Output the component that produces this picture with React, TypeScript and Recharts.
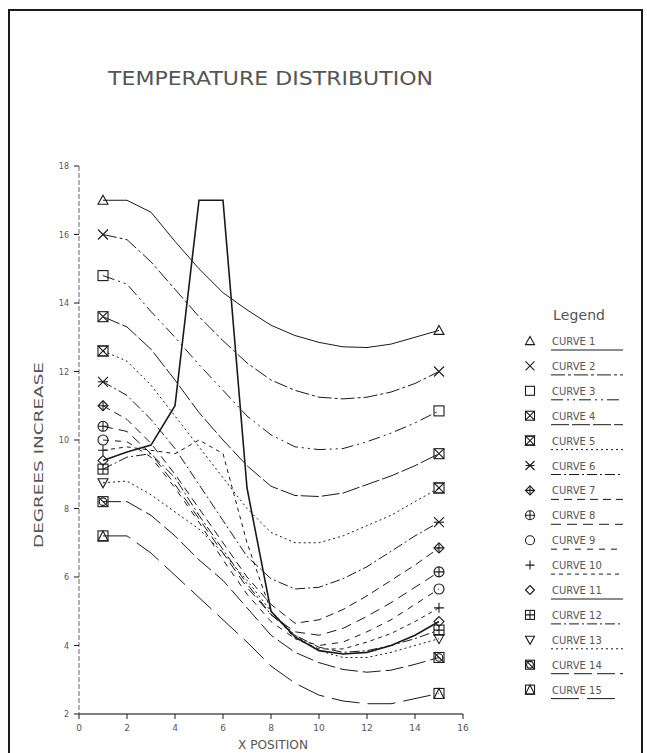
import { Legend, Line, LineChart, XAxis, YAxis } from "recharts";

const INK = "#1a1a1a";
const TEXT = "#555";
const FONT = "'DejaVu Sans', sans-serif";

const X_POS = [1, 2, 3, 4, 5, 6, 7, 8, 9, 10, 11, 12, 13, 14, 15];
const X_TICKS = [0, 2, 4, 6, 8, 10, 12, 14, 16];
const Y_TICKS = [2, 4, 6, 8, 10, 12, 14, 16, 18];

const CURVE_1 = [17.0, 17.0, 16.65, 15.8, 15.0, 14.3, 13.8, 13.35, 13.05, 12.85, 12.72, 12.7, 12.8, 13.0, 13.2];
const CURVE_2 = [16.0, 15.85, 15.2, 14.4, 13.6, 12.9, 12.25, 11.75, 11.45, 11.25, 11.2, 11.25, 11.4, 11.65, 12.0];
const CURVE_3 = [14.8, 14.55, 13.75, 13.0, 12.2, 11.45, 10.7, 10.15, 9.8, 9.72, 9.75, 9.95, 10.2, 10.5, 10.85];
const CURVE_4 = [13.6, 13.3, 12.65, 11.75, 10.8, 10.0, 9.25, 8.65, 8.38, 8.35, 8.45, 8.7, 8.95, 9.25, 9.6];
const CURVE_5 = [12.6, 12.3, 11.6, 10.7, 9.8, 8.9, 8.0, 7.3, 7.0, 7.0, 7.2, 7.5, 7.8, 8.2, 8.6];
const CURVE_6 = [11.7, 11.3, 10.6, 9.75, 8.7, 7.65, 6.6, 5.95, 5.65, 5.7, 5.95, 6.3, 6.75, 7.2, 7.6];
const CURVE_7 = [11.0, 10.6, 9.9, 9.0, 8.0, 7.0, 6.0, 5.2, 4.65, 4.75, 5.05, 5.45, 5.9, 6.35, 6.85];
const CURVE_8 = [10.4, 10.25, 9.6, 8.7, 7.7, 6.7, 5.7, 4.9, 4.4, 4.3, 4.5, 4.85, 5.25, 5.7, 6.15];
const CURVE_9 = [10.0, 9.95, 9.5, 8.6, 7.6, 6.5, 5.5, 4.7, 4.2, 4.0, 4.1, 4.4, 4.75, 5.2, 5.65];
const CURVE_10 = [9.7, 9.8, 9.7, 9.6, 10.0, 9.6, 7.0, 5.0, 4.2, 3.9, 3.9, 4.1, 4.35, 4.7, 5.1];
const CURVE_11 = [9.4, 9.65, 9.85, 11.0, 17.0, 17.0, 8.6, 5.0, 4.25, 3.85, 3.75, 3.8, 4.0, 4.3, 4.7];
const CURVE_12 = [9.15, 9.5, 9.6, 8.9, 7.8, 6.8, 5.8, 4.9, 4.3, 3.95, 3.8, 3.85, 4.0, 4.2, 4.45];
const CURVE_13 = [8.75, 8.8, 8.4, 7.9, 7.4, 6.7, 5.9, 5.0, 4.3, 3.85, 3.65, 3.65, 3.8, 4.0, 4.2];
const CURVE_14 = [8.2, 8.2, 7.8, 7.2, 6.5, 5.9, 5.1, 4.3, 3.8, 3.5, 3.3, 3.22, 3.28, 3.45, 3.65];
const CURVE_15 = [7.2, 7.2, 6.7, 6.05, 5.4, 4.75, 4.1, 3.4, 2.9, 2.55, 2.38, 2.3, 2.3, 2.45, 2.6];

const CURVES = [
  CURVE_1, CURVE_2, CURVE_3, CURVE_4, CURVE_5, CURVE_6, CURVE_7, CURVE_8,
  CURVE_9, CURVE_10, CURVE_11, CURVE_12, CURVE_13, CURVE_14, CURVE_15,
];
const CURVE_NAMES = CURVES.map((_, i) => `CURVE ${i + 1}`);

// plotter pen patterns, one per curve
const DASHES = [
  undefined,
  "14 3 3 3",
  "12 4 2 4 2 4",
  "18 3",
  "2 3",
  "10 3 2 3",
  "8 5",
  "10 6",
  "6 6",
  "4 4",
  undefined,
  "10 3 2 3",
  "2 3",
  "18 5",
  "28 8",
];

const rows = X_POS.map((x, i) => {
  const r: Record<string, number> = { x };
  CURVES.forEach((c, k) => (r[`c${k + 1}`] = c[i]));
  return r;
});

function Marker({ kind, cx, cy, s = 5 }: { kind: number; cx: number; cy: number; s?: number }) {
  const p = { fill: "none", stroke: INK, strokeWidth: 1.1 };
  const box = <rect x={cx - s} y={cy - s} width={2 * s} height={2 * s} {...p} />;
  const xLines = <path d={`M${cx - s},${cy - s}L${cx + s},${cy + s}M${cx + s},${cy - s}L${cx - s},${cy + s}`} {...p} />;
  const plus = <path d={`M${cx - s},${cy}H${cx + s}M${cx},${cy - s}V${cy + s}`} {...p} />;
  const diamond = <path d={`M${cx},${cy - s}L${cx + s},${cy}L${cx},${cy + s}L${cx - s},${cy}Z`} {...p} />;
  switch (kind) {
    case 0:
      return <path d={`M${cx},${cy - s}L${cx + s},${cy + s * 0.8}H${cx - s}Z`} {...p} />;
    case 1:
      return xLines;
    case 2:
      return box;
    case 3:
      return <g>{box}{xLines}</g>;
    case 4:
      return <g><path d={`M${cx - s},${cy - s}H${cx + s}L${cx - s},${cy + s}H${cx + s}Z`} {...p} />{box}</g>;
    case 5:
      return <g>{xLines}<path d={`M${cx - s},${cy}H${cx + s}`} {...p} /></g>;
    case 6:
      return <g>{diamond}{plus}</g>;
    case 7:
      return <g><circle cx={cx} cy={cy} r={s} {...p} />{plus}</g>;
    case 8:
      return <circle cx={cx} cy={cy} r={s} {...p} />;
    case 9:
      return plus;
    case 10:
      return diamond;
    case 11:
      return <g>{box}{plus}</g>;
    case 12:
      return <path d={`M${cx - s},${cy - s * 0.8}H${cx + s}L${cx},${cy + s}Z`} {...p} />;
    case 13:
      return <g>{box}<circle cx={cx} cy={cy} r={s * 0.75} {...p} /><path d={`M${cx - s},${cy - s}L${cx + s},${cy + s}`} {...p} /></g>;
    default:
      return <g>{box}<path d={`M${cx},${cy - s}L${cx + s},${cy + s}H${cx - s}Z`} {...p} /></g>;
  }
}

function YTick({ x, y, payload }: any) {
  return (
    <g>
      <line x1={x - 5} x2={x} y1={y} y2={y} stroke={INK} />
      <text x={x - 10} y={y + 3} textAnchor="end" fontSize={8} fill={TEXT} fontFamily={FONT}>
        {payload.value}
      </text>
    </g>
  );
}

function XTick({ x, y, payload }: any) {
  return (
    <g>
      <line x1={x} x2={x} y1={y} y2={y + 5} stroke={INK} />
      <text x={x} y={y + 17} textAnchor="middle" fontSize={9} fill={TEXT} fontFamily={FONT}>
        {payload.value}
      </text>
    </g>
  );
}

function LegendBox() {
  return (
    <svg width={130} height={410} style={{ display: "block", overflow: "visible" }}>
      <text x={38} y={20} fontSize={14} fill={TEXT} fontFamily={FONT} textLength={52}>
        Legend
      </text>
      {CURVE_NAMES.map((name, i) => {
        const y = 41 + i * 24.9;
        return (
          <g key={name}>
            <Marker kind={i} cx={15} cy={y} s={4.5} />
            <text x={37} y={y + 4} fontSize={10} fill={TEXT} fontFamily={FONT}>
              {name}
            </text>
            <line x1={36} x2={108} y1={y + 9} y2={y + 9} stroke={INK} strokeWidth={1} strokeDasharray={DASHES[i]} />
          </g>
        );
      })}
    </svg>
  );
}

export default function App() {
  return (
    <div style={{ position: "absolute", left: 0, top: 0, width: 647, height: 753, background: "#fff" }}>
      <div
        style={{
          position: "absolute",
          left: 8,
          top: 9,
          width: 631,
          height: 744,
          borderLeft: `2px solid ${INK}`,
          borderTop: `2px solid ${INK}`,
          borderRight: `2px solid ${INK}`,
        }}
      />
      <svg width={647} height={753} style={{ position: "absolute", left: 0, top: 0 }}>
        <text x={108} y={85} fontSize={19} fill={TEXT} fontFamily={FONT} textLength={325} lengthAdjust="spacingAndGlyphs">
          TEMPERATURE DISTRIBUTION
        </text>
        <text x={238} y={749} fontSize={12} fill={TEXT} fontFamily={FONT} textLength={70} lengthAdjust="spacingAndGlyphs">
          X POSITION
        </text>
        <text
          x={0}
          y={0}
          fontSize={12}
          fill={TEXT}
          fontFamily={FONT}
          textLength={186}
          lengthAdjust="spacingAndGlyphs"
          transform="translate(43,548) rotate(-90)"
        >
          DEGREES INCREASE
        </text>
      </svg>
      <div style={{ position: "absolute", left: 0, top: 0 }}>
        <LineChart width={647} height={753} data={rows} margin={{ top: 166, right: 184, bottom: 38, left: 78 }}>
          <XAxis
            dataKey="x"
            type="number"
            domain={[0, 16]}
            ticks={X_TICKS}
            height={1}
            tickSize={0}
            tickMargin={0}
            tickLine={false}
            tick={<XTick />}
            axisLine={{ stroke: "#555", strokeWidth: 1.5 }}
          />
          <YAxis
            type="number"
            domain={[2, 18]}
            ticks={Y_TICKS}
            width={1}
            tickSize={0}
            tickMargin={0}
            tickLine={false}
            tick={<YTick />}
            axisLine={{ stroke: "#666", strokeDasharray: "5 2" }}
          />
          <Legend
            layout="horizontal"
            verticalAlign="middle"
            align="center"
            content={() => <LegendBox />}
            wrapperStyle={{ position: "absolute", left: 515, top: 300, width: 130, height: 410 }}
          />
          {CURVES.map((_, k) => (
            <Line
              key={k}
              dataKey={`c${k + 1}`}
              name={CURVE_NAMES[k]}
              type="linear"
              stroke={INK}
              strokeWidth={k === 10 ? 1.6 : 1}
              strokeDasharray={DASHES[k]}
              isAnimationActive={false}
              dot={(p: any) =>
                p.index === 0 || p.index === X_POS.length - 1 ? (
                  <g key={`d${k}-${p.index}`}>
                    <Marker kind={k} cx={p.cx} cy={p.cy} />
                  </g>
                ) : (
                  <g key={`d${k}-${p.index}`} />
                )
              }
              activeDot={false}
            />
          ))}
        </LineChart>
      </div>
    </div>
  );
}
